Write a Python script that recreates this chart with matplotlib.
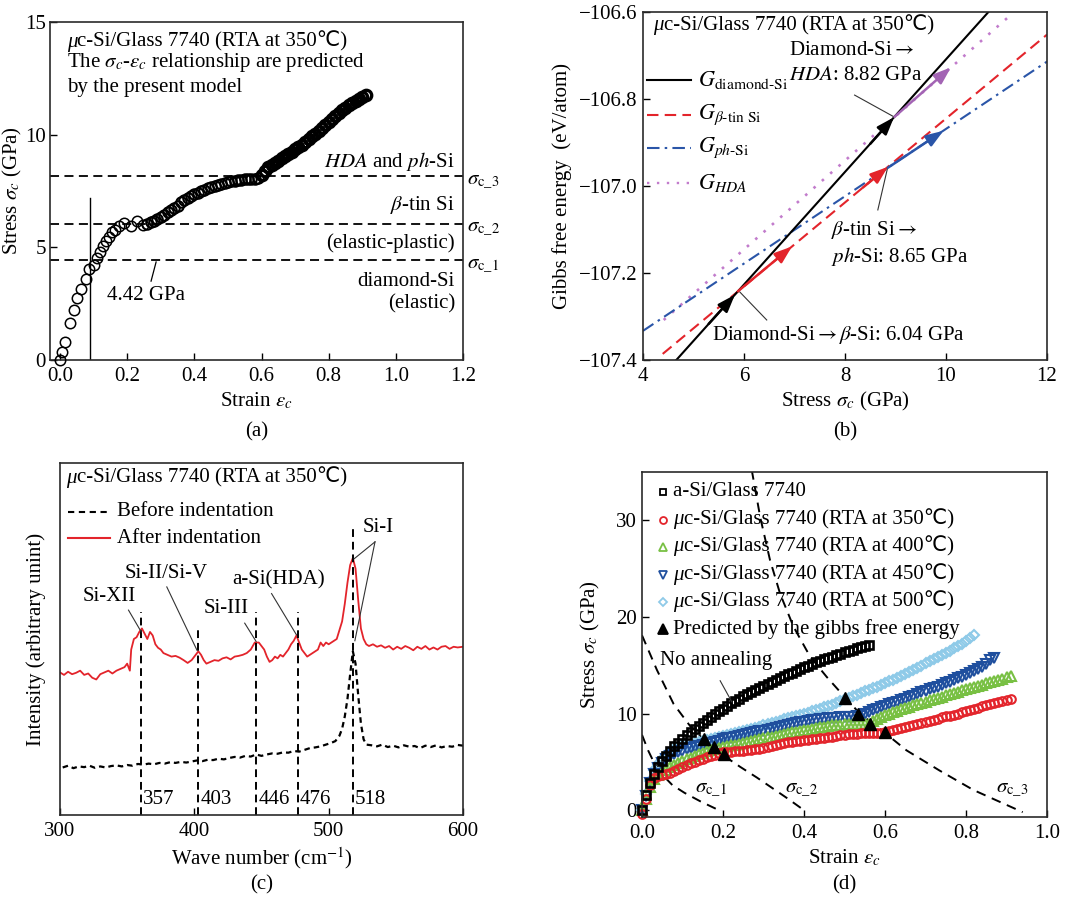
import matplotlib
matplotlib.use('Agg')
import matplotlib.pyplot as plt
from matplotlib.ticker import FuncFormatter, FormatStrFormatter

plt.rcParams['font.family'] = ['Liberation Serif', 'DejaVu Sans', 'Noto Sans CJK SC']
plt.rcParams['mathtext.fontset'] = 'stix'
plt.rcParams['font.size'] = 15
plt.rcParams['axes.linewidth'] = 1.2
plt.rcParams['axes.edgecolor'] = '#2a2a2a'
plt.rcParams['xtick.direction'] = 'in'
plt.rcParams['ytick.direction'] = 'in'
plt.rcParams['xtick.major.size'] = 5
plt.rcParams['ytick.major.size'] = 5
plt.rcParams['xtick.major.width'] = 1
plt.rcParams['ytick.major.width'] = 1
plt.rcParams['xtick.major.pad'] = 5
plt.rcParams['ytick.major.pad'] = 4

# ---------------- data: panel (a) ----------------
strain_a = [0.0, 0.007, 0.016, 0.029, 0.041, 0.05, 0.062, 0.076, 0.086, 0.1, 0.11, 0.119,
            0.127, 0.136, 0.146, 0.155, 0.165, 0.176, 0.19, 0.212, 0.229, 0.248,
            0.26, 0.27, 0.28, 0.29, 0.30, 0.31, 0.32, 0.33, 0.34, 0.35, 0.36, 0.37, 0.38, 0.39,
            0.40, 0.41, 0.42, 0.43, 0.44, 0.45, 0.46, 0.47, 0.48, 0.49, 0.50, 0.51, 0.52, 0.53,
            0.54, 0.55, 0.56, 0.57, 0.58, 0.59, 0.60, 0.61, 0.62, 0.63, 0.64, 0.65, 0.66, 0.67,
            0.68, 0.69, 0.70, 0.71, 0.72, 0.73, 0.74, 0.75, 0.76, 0.77, 0.78, 0.79, 0.80, 0.81,
            0.82, 0.83, 0.84, 0.85, 0.86, 0.87, 0.88, 0.89, 0.90, 0.91]
stress_a = [0.0, 0.37, 0.79, 1.63, 2.22, 2.74, 3.14, 3.6, 4.03, 4.22, 4.52, 4.81,
            5.04, 5.26, 5.48, 5.66, 5.78, 5.93, 6.07, 5.93, 6.15, 6.0,
            6.05, 6.12, 6.18, 6.25, 6.35, 6.45, 6.55, 6.65, 6.75, 6.85, 7.0, 7.1, 7.2, 7.28,
            7.35, 7.42, 7.5, 7.55, 7.62, 7.68, 7.72, 7.77, 7.82, 7.86, 7.9, 7.93, 7.96, 7.98,
            8.0, 8.02, 8.03, 8.03, 8.05, 8.08, 8.2, 8.4, 8.55, 8.65, 8.75, 8.85, 8.95, 9.05,
            9.15, 9.25, 9.35, 9.45, 9.55, 9.68, 9.8, 9.93, 10.05, 10.18, 10.3, 10.45, 10.58, 10.7,
            10.82, 10.95, 11.08, 11.2, 11.3, 11.4, 11.5, 11.6, 11.68, 11.75]
sigma_levels_a = [4.42, 6.04, 8.15]
sigma_names_a = [r'$\sigma_{\rm c\_1}$', r'$\sigma_{\rm c\_2}$', r'$\sigma_{\rm c\_3}$']
yield_strain_a = 0.09

# ---------------- data: panel (b) ----------------
stress_b_diamond = [4.66, 10.84]
G_diamond = [-107.40, -106.60]
stress_b_beta = [4.39, 12.0]
G_beta = [-107.386, -106.652]
stress_b_ph = [4.0, 12.0]
G_ph = [-107.333, -106.714]
stress_b_hda = [4.41, 11.25]
G_hda = [-107.308, -106.61]

# ---------------- data: panel (c) ----------------
raman_after = [(300, 0.405), (303, 0.398), (306, 0.407), (309, 0.400), (312, 0.404), (315, 0.41),
               (318, 0.398), (321, 0.402), (324, 0.39), (327, 0.385), (330, 0.40), (333, 0.405),
               (336, 0.41), (339, 0.402), (342, 0.41), (345, 0.415), (348, 0.42), (350, 0.43),
               (352, 0.41), (353, 0.47), (355, 0.50), (357, 0.505), (359, 0.52), (361, 0.53),
               (363, 0.515), (365, 0.50), (367, 0.52), (369, 0.51), (371, 0.485), (373, 0.475),
               (375, 0.47), (377, 0.46), (380, 0.455), (383, 0.45), (386, 0.452), (389, 0.447),
               (392, 0.44), (395, 0.432), (398, 0.44), (401, 0.455), (403, 0.465), (405, 0.455),
               (407, 0.44), (409, 0.43), (412, 0.435), (415, 0.44), (418, 0.438), (421, 0.445),
               (424, 0.448), (427, 0.442), (430, 0.45), (433, 0.452), (436, 0.455), (439, 0.46),
               (442, 0.47), (445, 0.49), (448, 0.49), (450, 0.48), (452, 0.47), (454, 0.45),
               (456, 0.435), (458, 0.44), (460, 0.45), (462, 0.445), (464, 0.455), (466, 0.45),
               (468, 0.46), (470, 0.47), (472, 0.485), (474, 0.495), (476, 0.51), (478, 0.49),
               (480, 0.47), (482, 0.46), (484, 0.45), (486, 0.455), (488, 0.46), (490, 0.465),
               (492, 0.47), (494, 0.49), (496, 0.48), (498, 0.49), (500, 0.485), (502, 0.49),
               (504, 0.495), (506, 0.50), (508, 0.525), (510, 0.55), (512, 0.60), (514, 0.66),
               (516, 0.71), (518, 0.73), (520, 0.70), (522, 0.61), (524, 0.53), (526, 0.50),
               (528, 0.485), (530, 0.48), (533, 0.485), (536, 0.478), (539, 0.482), (542, 0.475),
               (545, 0.48), (548, 0.47), (551, 0.478), (554, 0.472), (557, 0.48), (560, 0.475),
               (563, 0.468), (566, 0.478), (569, 0.472), (572, 0.48), (575, 0.47), (578, 0.476),
               (581, 0.47), (584, 0.478), (587, 0.48), (590, 0.472), (593, 0.478), (596, 0.476),
               (600, 0.478)]
raman_before = [(302, 0.135), (306, 0.14), (310, 0.133), (314, 0.138), (318, 0.136), (322, 0.14),
                (326, 0.134), (330, 0.138), (334, 0.135), (338, 0.139), (342, 0.141), (346, 0.138),
                (350, 0.142), (354, 0.14), (358, 0.145), (362, 0.143), (366, 0.146), (370, 0.144),
                (374, 0.148), (378, 0.146), (382, 0.15), (386, 0.148), (390, 0.151), (394, 0.149),
                (398, 0.152), (402, 0.155), (406, 0.153), (410, 0.157), (414, 0.156), (418, 0.16),
                (422, 0.158), (426, 0.162), (430, 0.165), (434, 0.163), (438, 0.168), (442, 0.166),
                (446, 0.172), (450, 0.168), (454, 0.172), (458, 0.175), (462, 0.174), (466, 0.178),
                (470, 0.177), (474, 0.182), (478, 0.18), (482, 0.185), (486, 0.19), (490, 0.192),
                (494, 0.195), (498, 0.2), (502, 0.205), (505, 0.21), (508, 0.225), (510, 0.245),
                (512, 0.28), (514, 0.33), (516, 0.4), (518, 0.465), (520, 0.43), (522, 0.34),
                (524, 0.26), (526, 0.215), (528, 0.2), (532, 0.198), (536, 0.195), (540, 0.2),
                (544, 0.193), (548, 0.197), (552, 0.192), (556, 0.198), (560, 0.194), (564, 0.196),
                (568, 0.19), (572, 0.197), (576, 0.193), (580, 0.198), (584, 0.192), (588, 0.196),
                (592, 0.194), (596, 0.199), (600, 0.197)]
peak_lines = [360, 403, 446, 477, 518]
peak_labels = ['357', '403', '446', '476', '518']
peak_tops = [0.577, 0.525, 0.577, 0.577, 0.818]

# ---------------- data: panel (d) ----------------
strain_d = [0.00, 0.01, 0.02, 0.03, 0.04, 0.05, 0.06, 0.07, 0.08, 0.09,
            0.10, 0.11, 0.12, 0.13, 0.14, 0.15, 0.16, 0.17, 0.18, 0.19,
            0.20, 0.21, 0.22, 0.23, 0.24, 0.25, 0.26, 0.27, 0.28, 0.29,
            0.30, 0.31, 0.32, 0.33, 0.34, 0.35, 0.36, 0.37, 0.38, 0.39,
            0.40, 0.41, 0.42, 0.43, 0.44, 0.45, 0.46, 0.47, 0.48, 0.49,
            0.50, 0.51, 0.52, 0.53, 0.54, 0.55, 0.56, 0.57, 0.58, 0.59,
            0.60, 0.61, 0.62, 0.63, 0.64, 0.65, 0.66, 0.67, 0.68, 0.69,
            0.70, 0.71, 0.72, 0.73, 0.74, 0.75, 0.76, 0.77, 0.78, 0.79,
            0.80, 0.81, 0.82, 0.83, 0.84, 0.85, 0.86, 0.87, 0.88, 0.89,
            0.90, 0.91]
stress_aSi = [0.0, 1.6, 2.8, 3.8, 4.5, 5.1, 5.6, 6.1, 6.6, 7.0,
              7.4, 7.75, 8.1, 8.45, 8.75, 9.05, 9.35, 9.65, 9.95, 10.25,
              10.5, 10.8, 11.05, 11.3, 11.55, 11.8, 12.0, 12.25, 12.45, 12.7,
              12.9, 13.1, 13.3, 13.5, 13.7, 13.9, 14.1, 14.25, 14.45, 14.6,
              14.8, 14.95, 15.1, 15.3, 15.45, 15.6, 15.75, 15.9, 16.05, 16.2,
              16.35, 16.5, 16.6, 16.75, 16.9, 17.0, 17.15]
stress_350 = [-0.4, 1.2, 2.6, 3.3, 3.5, 3.6, 3.8, 3.9, 4.1, 4.3,
              4.5, 4.7, 4.9, 5.0, 5.2, 5.35, 5.5, 5.65, 5.75, 5.9,
              6.0, 6.0, 6.05, 6.1, 6.1, 6.15, 6.2, 6.25, 6.3, 6.35,
              6.45, 6.5, 6.6, 6.75, 6.9, 7.0, 7.05, 7.1, 7.15, 7.2,
              7.25, 7.3, 7.35, 7.4, 7.45, 7.5, 7.55, 7.6, 7.7, 7.75,
              7.8, 7.85, 7.9, 7.9, 7.95, 7.95, 8.0, 8.0, 8.0, 8.0,
              8.05, 8.2, 8.35, 8.45, 8.55, 8.6, 8.7, 8.8, 8.9, 9.0,
              9.1, 9.2, 9.35, 9.45, 9.6, 9.7, 9.8, 9.9, 10.0, 10.15,
              10.25, 10.4, 10.5, 10.6, 10.75, 10.85, 11.0, 11.1, 11.2, 11.3,
              11.45, 11.5]
stress_400 = [0.0, 1.2, 2.4, 3.2, 3.6, 3.9, 4.2, 4.5, 4.7, 4.9,
              5.1, 5.3, 5.45, 5.65, 5.8, 5.95, 6.1, 6.2, 6.3, 6.4,
              6.5, 6.6, 6.7, 6.8, 6.9, 7.0, 7.1, 7.2, 7.3, 7.4,
              7.45, 7.55, 7.6, 7.7, 7.8, 7.9, 7.95, 8.05, 8.1, 8.2,
              8.3, 8.35, 8.45, 8.55, 8.6, 8.65, 8.7, 8.8, 8.85, 8.85,
              8.9, 8.95, 8.9, 8.9, 8.9, 8.9, 8.95, 9.2, 9.45, 9.65,
              9.85, 10.0, 10.15, 10.3, 10.45, 10.55, 10.7, 10.85, 11.0, 11.1,
              11.25, 11.4, 11.5, 11.65, 11.75, 11.9, 12.0, 12.15, 12.25, 12.4,
              12.5, 12.65, 12.75, 12.9, 13.0, 13.15, 13.25, 13.4, 13.5, 13.6,
              13.75, 13.85]
stress_450 = [0.0, 1.5, 2.8, 3.8, 4.4, 4.9, 5.3, 5.6, 5.8, 6.0,
              6.15, 6.3, 6.4, 6.5, 6.6, 6.75, 6.85, 6.95, 7.1, 7.2,
              7.35, 7.45, 7.5, 7.6, 7.7, 7.8, 7.85, 7.95, 8.05, 8.15,
              8.25, 8.35, 8.45, 8.55, 8.65, 8.75, 8.85, 8.9, 9.0, 9.1,
              9.15, 9.2, 9.3, 9.35, 9.4, 9.45, 9.5, 9.55, 9.55, 9.6,
              9.6, 9.6, 9.65, 9.7, 9.8, 10.0, 10.2, 10.35, 10.5, 10.65,
              10.8, 10.95, 11.1, 11.25, 11.4, 11.55, 11.7, 11.85, 12.0, 12.2,
              12.35, 12.5, 12.65, 12.8, 13.0, 13.15, 13.3, 13.5, 13.65, 13.8,
              14.0, 14.2, 14.4, 14.6, 14.8, 15.1, 15.5, 15.8]
stress_500 = [0.0, 1.7, 3.0, 4.2, 4.8, 5.3, 5.7, 6.0, 6.3, 6.5,
              6.7, 6.8, 6.9, 7.0, 7.1, 7.2, 7.3, 7.35, 7.45, 7.55,
              7.65, 7.75, 7.9, 8.0, 8.1, 8.2, 8.3, 8.4, 8.55, 8.65,
              8.8, 8.9, 9.0, 9.15, 9.25, 9.4, 9.5, 9.65, 9.75, 9.9,
              10.0, 10.1, 10.25, 10.4, 10.5, 10.65, 10.8, 10.9, 11.1, 11.3,
              11.5, 11.65, 11.8, 11.95, 12.1, 12.3, 12.45, 12.6, 12.8, 12.95,
              13.15, 13.35, 13.5, 13.7, 13.9, 14.1, 14.3, 14.5, 14.75, 14.95,
              15.2, 15.4, 15.6, 15.85, 16.05, 16.3, 16.5, 16.75, 17.0, 17.25,
              17.5, 17.8, 18.1]
pred_strain = [0.152, 0.178, 0.203, 0.502, 0.534, 0.562, 0.600]
pred_stress = [7.35, 6.5, 5.8, 11.6, 10.0, 8.9, 8.05]
sig1_strain = [0.0, 0.015, 0.03, 0.045, 0.075, 0.105, 0.145, 0.19]
sig1_stress = [7.8, 6.2, 4.9, 3.9, 2.6, 1.8, 0.9, 0.0]
sig2_strain = [0.0, 0.037, 0.078, 0.119, 0.16, 0.2, 0.242, 0.283, 0.325, 0.36, 0.4]
sig2_stress = [18.1, 14.5, 11.0, 8.7, 7.0, 5.7, 4.5, 3.4, 2.2, 1.2, 0.0]
sig3_strain = [0.271, 0.292, 0.316, 0.341, 0.374, 0.415, 0.456, 0.504, 0.538, 0.6, 0.653,
               0.735, 0.818, 0.94]
sig3_stress = [35.2, 30.3, 25.9, 22.4, 19.0, 15.9, 13.8, 11.55, 10.0, 8.0, 6.2, 4.1, 2.1, -0.2]

RED = '#e3242b'
BLUE = '#2a55a8'
PINK = '#c27ccc'
PURPLE = '#a364b4'
GREEN = '#78c043'
DBLUE = '#1f4f9e'
LBLUE = '#8ecae8'
ARROW = r'${\rightarrow}$'

W, H = 1078, 899
fig = plt.figure(figsize=(W / 100, H / 100), dpi=100)


def add_ax(l, t, r, b):
    return fig.add_axes([l / W, 1 - b / H, (r - l) / W, (b - t) / H])


def mu_text(ax, x, y, rest, transform=None, **kw):
    """Italic mu followed by plain text (plain text keeps the font fallback for the Celsius sign)."""
    tr = transform if transform is not None else ax.transData
    t1 = ax.text(x, y, 'μ', style='italic', va='center', transform=tr, **kw)
    ax.annotate(rest, xy=(1, 0), xycoords=t1, ha='left', va='bottom', **kw)


minus_fmt = FuncFormatter(lambda v, p: ('%.1f' % v).replace('-', '\u2212'))

# ================= (a) =================
ax1 = add_ax(50, 22, 463, 360)
for lv in sigma_levels_a:
    ax1.axhline(lv, color='k', lw=1.3, ls=(0, (5, 3)), zorder=1)
na = len(stress_a)
idx1 = [i for i in range(na) if strain_a[i] < 0.25]
idx2 = [i for i in range(na) if 0.25 <= strain_a[i] < 0.6]
idx3 = [i for i in range(na) if strain_a[i] >= 0.6]
for idx, mew in [(idx1, 1.1), (idx2, 1.5), (idx3, 2.4)]:
    ax1.plot([strain_a[i] for i in idx], [stress_a[i] for i in idx], 'o', ms=7.5,
             mfc='none', mec='black', mew=mew, clip_on=False, zorder=3)
ax1.plot([yield_strain_a, yield_strain_a], [0, 7.2], color='k', lw=1.0)
ax1.set_xlim(-0.03, 1.2)
ax1.set_ylim(0, 15)
ax1.set_xticks([0.0, 0.2, 0.4, 0.6, 0.8, 1.0, 1.2])
ax1.xaxis.set_major_formatter(FormatStrFormatter('%.1f'))
ax1.set_yticks([0, 5, 10, 15])
ax1.tick_params(axis='y', pad=3)
ax1.set_xlabel(r'Strain $\varepsilon_c$', labelpad=3)
ax1.set_ylabel(r'Stress $\sigma_c$ (GPa)')
ax1.yaxis.set_label_coords(-0.062, 0.5)
mu_text(ax1, 0.02, 14.1, 'c-Si/Glass 7740 (RTA at 350℃)')
ax1.text(0.02, 13.2, r'The $\sigma_c$-$\varepsilon_c$ relationship are predicted', va='center')
ax1.text(0.02, 12.1, 'by the present model', va='center')
ax1.text(1.176, 8.8, r'$HDA$ and $ph$-Si', ha='right', va='center')
ax1.text(1.176, 6.88, r'$\beta$-tin Si', ha='right', va='center')
ax1.text(1.176, 5.18, '(elastic-plastic)', ha='right', va='center')
ax1.text(1.176, 3.48, 'diamond-Si', ha='right', va='center')
ax1.text(1.176, 2.51, '(elastic)', ha='right', va='center')
for lv, nm in zip(sigma_levels_a, sigma_names_a):
    ax1.text(1.212, lv - 0.17, nm, ha='left', va='center', clip_on=False)
ax1.plot([0.286, 0.271], [4.35, 3.5], color='k', lw=0.9)
ax1.text(0.257, 2.85, '4.42 GPa', ha='center', va='center')

# ================= (b) =================
ax2 = add_ax(643, 12, 1047, 360)
ax2.plot(stress_b_hda, G_hda, color=PINK, lw=1.9, ls=(0, (1, 3.2)))
ax2.plot(stress_b_ph, G_ph, color=BLUE, lw=1.5, ls=(0, (6, 2.5, 1.2, 2.5)))
ax2.plot(stress_b_beta, G_beta, color=RED, lw=1.5, ls=(0, (5.5, 3)))
ax2.plot(stress_b_diamond, G_diamond, color='k', lw=1.5)


def arrow(ax, tail, tip, color):
    ax.annotate('', xy=tip, xytext=tail,
                arrowprops=dict(arrowstyle='-|>,head_length=0.7,head_width=0.25',
                                color=color, lw=1.8, shrinkA=0, shrinkB=0))


arrow(ax2, (5.3, -107.317), (5.82, -107.25), 'k')
arrow(ax2, (8.5, -106.903), (8.97, -106.842), 'k')
arrow(ax2, (5.88, -107.242), (6.95, -107.139), RED)
arrow(ax2, (8.35, -107.004), (8.85, -106.956), RED)
arrow(ax2, (8.85, -106.958), (9.95, -106.873), BLUE)
arrow(ax2, (8.98, -106.841), (10.1, -106.727), PURPLE)
ax2.plot([8.19, 8.97], [-106.791, -106.841], color='#333333', lw=0.8)
ax2.plot([8.65, 8.84], [-107.055, -106.96], color='#333333', lw=0.8)
ax2.plot([6.45, 5.92], [-107.308, -107.244], color='#333333', lw=0.8)
ax2.set_xlim(4, 12)
ax2.set_ylim(-107.4, -106.6)
ax2.set_xticks([4, 6, 8, 10, 12])
ax2.set_yticks([-107.4, -107.2, -107.0, -106.8, -106.6])
ax2.yaxis.set_major_formatter(minus_fmt)
ax2.set_xlabel(r'Stress $\sigma_c$ (GPa)', labelpad=3)
ax2.set_ylabel('Gibbs free energy  (eV/atom)')
ax2.yaxis.set_label_coords(-0.176, 0.5)
mu_text(ax2, 4.2, -106.632, 'c-Si/Glass 7740 (RTA at 350℃)')
ax2.text(6.9, -106.688, 'Diamond-Si' + ARROW, va='center')
ax2.text(6.9, -106.745, r'$HDA$: 8.82 GPa', va='center')
ax2.text(7.72, -107.101, r'$\beta$-tin Si' + ARROW, va='center')
ax2.text(7.72, -107.163, r'$ph$-Si: 8.65 GPa', va='center')
ax2.text(5.36, -107.343, r'Diamond-Si${\rightarrow}\beta$-Si: 6.04 GPa', va='center')
leg_b = [('k', '-', r'$G_{\mathrm{diamond‐Si}}$'),
         (RED, (0, (5.5, 3)), r'$G_{\beta‐\mathrm{tin\ Si}}$'),
         (BLUE, (0, (6, 2.5, 1.2, 2.5)), r'$G_{ph‐\mathrm{Si}}$'),
         (PINK, (0, (1, 3.2)), r'$G_{HDA}$')]
for (c, ls, lab), yy in zip(leg_b, [0.805, 0.704, 0.609, 0.509]):
    ax2.plot([0.01, 0.12], [yy, yy], color=c, ls=ls, lw=1.7 if c == PINK else 1.5,
             transform=ax2.transAxes)
    ax2.text(0.135, yy, lab, transform=ax2.transAxes, va='center', fontsize=16)

# ================= (c) =================
ax3 = add_ax(60, 463, 463, 815)
wa = [p[0] for p in raman_after]
ia = [p[1] for p in raman_after]
wb = [p[0] for p in raman_before]
ib = [p[1] for p in raman_before]
ax3.plot(wb, ib, color='k', lw=1.6, ls=(0, (2.5, 1.8)))
ax3.plot(wa, ia, color=RED, lw=1.3)
for pl, lab, top in zip(peak_lines, peak_labels, peak_tops):
    ax3.plot([pl, pl], [0, top], color='k', lw=1.4, ls=(0, (4, 2.5)))
    ax3.text(pl + 1.5, 0.043, lab, ha='left', va='center')
ax3.set_xlim(300, 600)
ax3.set_ylim(0, 1)
ax3.set_xticks([300, 400, 500, 600])
ax3.set_yticks([])
ax3.set_xlabel(r'Wave number (cm$^{-1}$)', labelpad=3)
ax3.set_ylabel('Intensity (arbitrary unint)')
ax3.yaxis.set_label_coords(-0.035, 0.5)
mu_text(ax3, 0.015, 0.957, 'c-Si/Glass 7740 (RTA at 350℃)', transform=ax3.transAxes)
ax3.plot([0.02, 0.124], [0.862, 0.862], color='k', lw=1.5, ls=(0, (3, 2.2)), transform=ax3.transAxes)
ax3.text(0.141, 0.862, 'Before indentation', transform=ax3.transAxes, va='center')
ax3.plot([0.02, 0.124], [0.786, 0.786], color=RED, lw=1.5, transform=ax3.transAxes)
ax3.text(0.141, 0.786, 'After indentation', transform=ax3.transAxes, va='center')
ax3.text(337, 0.62, 'Si-XII', ha='center', va='center')
ax3.plot([351, 360.5], [0.582, 0.52], color='#333333', lw=0.8)
ax3.text(379, 0.686, 'Si-II/Si-V', ha='center', va='center')
ax3.plot([379.5, 402], [0.648, 0.468], color='#333333', lw=0.8)
ax3.text(424, 0.587, 'Si-III', ha='center', va='center')
ax3.plot([437.5, 446], [0.545, 0.493], color='#333333', lw=0.8)
ax3.text(462.5, 0.667, 'a-Si(HDA)', ha='center', va='center')
ax3.plot([457.5, 476], [0.629, 0.512], color='#333333', lw=0.8)
ax3.text(537, 0.818, 'Si-I', ha='center', va='center')
ax3.plot([534.5, 519], [0.776, 0.728], color='#333333', lw=0.8)
ax3.plot([534.5, 519.5], [0.776, 0.495], color='#333333', lw=0.8)

# ================= (d) =================
ax4 = add_ax(642, 472, 1047, 817)
for sx, sy in [(sig1_strain, sig1_stress), (sig2_strain, sig2_stress), (sig3_strain, sig3_stress)]:
    ax4.plot(sx, sy, color='k', lw=1.4, ls=(0, (5, 3.5)), zorder=1)
series_d = [(stress_500, 'D', LBLUE, 5.5, 1.5), (stress_450, 'v', DBLUE, 6.5, 1.5),
            (stress_400, '^', GREEN, 6.5, 1.5), (stress_350, 'o', RED, 6.2, 1.5),
            (stress_aSi, 's', 'k', 5.5, 1.9)]
for ys, mk, col, ms, mew in series_d:
    ax4.plot(strain_d[:len(ys)], ys, mk, mfc='none', mec=col, ms=ms, mew=mew,
             clip_on=False, zorder=2)
ax4.plot(pred_strain, pred_stress, '^', color='k', ms=9, zorder=4)
ax4.set_xlim(0, 1.0)
ax4.set_ylim(-0.7, 35)
ax4.set_xticks([0.0, 0.2, 0.4, 0.6, 0.8, 1.0])
ax4.xaxis.set_major_formatter(FormatStrFormatter('%.1f'))
ax4.set_yticks([0, 10, 20, 30])
ax4.set_xlabel(r'Strain $\varepsilon_c$', labelpad=3)
ax4.set_ylabel(r'Stress $\sigma_c$ (GPa)')
ax4.yaxis.set_label_coords(-0.099, 0.5)
ax4.text(0.171, 2.3, r'$\sigma_{\rm c\_1}$', ha='center', va='center')
ax4.text(0.393, 2.2, r'$\sigma_{\rm c\_2}$', ha='center', va='center')
ax4.text(0.915, 2.2, r'$\sigma_{\rm c\_3}$', ha='center', va='center')
ax4.text(0.045, 15.5, 'No annealing', va='center')
ax4.plot([0.193, 0.222], [13.4, 11.2], color='#333333', lw=0.8)
leg_d = [('s', 'k', 'none', 4.5, None, 'a-Si/Glass 7740'),
         ('o', RED, 'none', 5.0, 'mu', 'c-Si/Glass 7740 (RTA at 350℃)'),
         ('^', GREEN, 'none', 5.5, 'mu', 'c-Si/Glass 7740 (RTA at 400℃)'),
         ('v', DBLUE, 'none', 5.5, 'mu', 'c-Si/Glass 7740 (RTA at 450℃)'),
         ('D', LBLUE, 'none', 4.5, 'mu', 'c-Si/Glass 7740 (RTA at 500℃)'),
         ('^', 'k', 'k', 7.0, None, 'Predicted by the gibbs free energy')]
for (mk, col, fc, ms, pre, lab), yy in zip(leg_d, [0.943, 0.861, 0.784, 0.701, 0.623, 0.546]):
    ax4.plot([0.052], [yy], mk, mec=col, mfc=fc, ms=ms, mew=1.3, transform=ax4.transAxes)
    if pre == 'mu':
        mu_text(ax4, 0.077, yy, lab, transform=ax4.transAxes)
    else:
        ax4.text(0.077, yy, lab, transform=ax4.transAxes, va='center')

# panel letters
fig.text((50 + 463) / 2 / W, 1 - 432 / H, '(a)', ha='center', va='center')
fig.text((643 + 1047) / 2 / W, 1 - 432 / H, '(b)', ha='center', va='center')
fig.text((60 + 463) / 2 / W, 1 - 885 / H, '(c)', ha='center', va='center')
fig.text((642 + 1047) / 2 / W, 1 - 885 / H, '(d)', ha='center', va='center')

fig.savefig('out.png', dpi=100)
